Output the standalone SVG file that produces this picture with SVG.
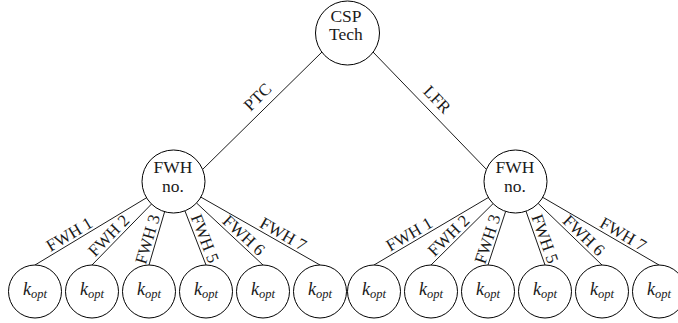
<svg xmlns="http://www.w3.org/2000/svg" width="678" height="323" viewBox="0 0 678 323">
  <defs>
    <!-- leaf node: circle with k_opt label -->
    <g id="leaf">
      <circle cx="0" cy="0" r="26.5" fill="#ffffff" stroke="#000000" stroke-width="1"/>
      <text x="0" y="3" font-family="Liberation Serif" font-size="18" font-style="italic" text-anchor="middle" fill="#1a1a1a">k<tspan font-size="12.5" dy="3">opt</tspan></text>
    </g>
  </defs>

  <!-- connectors -->
  <g id="connectors">
    <g stroke="#000000" stroke-width="0.9" fill="none">
      <line x1="322" y1="52" x2="202" y2="170"/>
      <line x1="373" y1="52" x2="487" y2="170"/>

      <line x1="146.52" y1="197.76" x2="35" y2="265"/>
      <line x1="151.5" y1="204.04" x2="92" y2="265"/>
      <line x1="164.63" y1="211.72" x2="149" y2="265"/>
      <line x1="184.93" y1="210.86" x2="206" y2="265"/>
      <line x1="196.53" y1="202.99" x2="263" y2="265"/>
      <line x1="200.87" y1="197.1" x2="320" y2="265"/>

      <line x1="488.37" y1="197.51" x2="374" y2="265"/>
      <line x1="493.09" y1="203.64" x2="431" y2="265"/>
      <line x1="505.65" y1="211.42" x2="488" y2="265"/>
      <line x1="525.99" y1="211.2" x2="545" y2="265"/>
      <line x1="538.16" y1="203.38" x2="602" y2="265"/>
      <line x1="542.73" y1="197.34" x2="659" y2="265"/>
    </g>

    <!-- edge labels -->
    <g font-family="Liberation Serif" font-size="17" text-anchor="middle" fill="#1a1a1a">
      <text transform="translate(266.8,106.3) rotate(-44.52)" y="-7.5">PTC</text>
      <text transform="translate(427.7,108.6) rotate(45.99)" y="-7.5">LFR</text>

      <text transform="translate(73.78,241.62) rotate(-31.08)" y="-3">FWH 1</text>
      <text transform="translate(114.82,241.62) rotate(-45.69)" y="-3">FWH 2</text>
      <text transform="translate(155.86,241.62) rotate(-73.65)" y="-3">FWH 3</text>
      <text transform="translate(196.9,241.62) rotate(68.74)" y="-3">FWH 5</text>
      <text transform="translate(237.94,241.62) rotate(43.01)" y="-3">FWH 6</text>
      <text transform="translate(278.98,241.62) rotate(29.69)" y="-3">FWH 7</text>

      <text transform="translate(413.62,241.62) rotate(-30.54)" y="-3">FWH 1</text>
      <text transform="translate(454.66,241.62) rotate(-44.66)" y="-3">FWH 2</text>
      <text transform="translate(495.7,241.62) rotate(-71.77)" y="-3">FWH 3</text>
      <text transform="translate(536.74,241.62) rotate(70.55)" y="-3">FWH 5</text>
      <text transform="translate(577.78,241.62) rotate(43.99)" y="-3">FWH 6</text>
      <text transform="translate(618.82,241.62) rotate(30.19)" y="-3">FWH 7</text>
    </g>
  </g>

  <!-- root -->
  <g id="root">
    <circle cx="347.5" cy="33" r="32" fill="#ffffff" stroke="#000000" stroke-width="1"/>
    <text x="346" y="21.5" font-family="Liberation Serif" font-size="17.5" text-anchor="middle" fill="#1a1a1a">CSP</text>
    <text x="346" y="40" font-family="Liberation Serif" font-size="17.5" text-anchor="middle" fill="#1a1a1a">Tech</text>
  </g>

  <!-- second level -->
  <g id="fwh-ptc">
    <circle cx="173.5" cy="181.5" r="31.5" fill="#ffffff" stroke="#000000" stroke-width="1"/>
    <text x="173" y="173" font-family="Liberation Serif" font-size="17.5" text-anchor="middle" fill="#1a1a1a">FWH</text>
    <text x="173" y="191.5" font-family="Liberation Serif" font-size="17.5" text-anchor="middle" fill="#1a1a1a">no.</text>
  </g>
  <g id="fwh-lfr">
    <circle cx="515.5" cy="181.5" r="31.5" fill="#ffffff" stroke="#000000" stroke-width="1"/>
    <text x="515" y="173" font-family="Liberation Serif" font-size="17.5" text-anchor="middle" fill="#1a1a1a">FWH</text>
    <text x="515" y="191.5" font-family="Liberation Serif" font-size="17.5" text-anchor="middle" fill="#1a1a1a">no.</text>
  </g>

  <!-- leaves -->
  <g id="ptc-fwh1"><use href="#leaf" x="35" y="291.5"/></g>
  <g id="ptc-fwh2"><use href="#leaf" x="92" y="291.5"/></g>
  <g id="ptc-fwh3"><use href="#leaf" x="149" y="291.5"/></g>
  <g id="ptc-fwh5"><use href="#leaf" x="206" y="291.5"/></g>
  <g id="ptc-fwh6"><use href="#leaf" x="263" y="291.5"/></g>
  <g id="ptc-fwh7"><use href="#leaf" x="320" y="291.5"/></g>
  <g id="lfr-fwh1"><use href="#leaf" x="374" y="291.5"/></g>
  <g id="lfr-fwh2"><use href="#leaf" x="431" y="291.5"/></g>
  <g id="lfr-fwh3"><use href="#leaf" x="488" y="291.5"/></g>
  <g id="lfr-fwh5"><use href="#leaf" x="545" y="291.5"/></g>
  <g id="lfr-fwh6"><use href="#leaf" x="602" y="291.5"/></g>
  <g id="lfr-fwh7"><use href="#leaf" x="659" y="291.5"/></g>
</svg>
